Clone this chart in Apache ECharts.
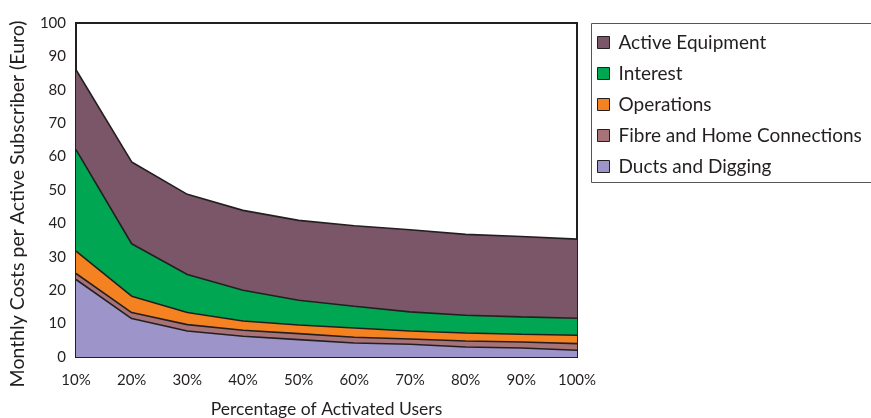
<!DOCTYPE html>
<html>
<head>
<meta charset="utf-8">
<script src="https://cdn.jsdelivr.net/npm/echarts@6/dist/echarts.min.js"></script>
<style>
  html, body { margin: 0; padding: 0; background: #fff; }
  #chart { width: 871px; height: 418px; }
</style>
</head>
<body>
<div id="chart"></div>
<script>
// Share of activated users along the x axis
const categories = ['10%', '20%', '30%', '40%', '50%', '60%', '70%', '80%', '90%', '100%'];

// Monthly cost components per active subscriber (Euro), stacked bottom to top
const ductsAndDigging = [23.2, 11.5, 7.8, 6.2, 5.2, 4.2, 3.8, 3.0, 2.7, 2.0];
const fibreAndHome    = [1.8, 1.8, 1.9, 1.8, 1.8, 1.7, 1.6, 1.8, 1.8, 2.0];
const operations      = [6.7, 4.9, 3.6, 2.8, 2.6, 2.8, 2.4, 2.4, 2.3, 2.5];
const interest        = [30.4, 15.7, 11.4, 9.2, 7.4, 6.5, 5.7, 5.3, 5.2, 5.1];
const activeEquipment = [23.9, 24.5, 24.0, 23.9, 23.9, 24.1, 24.6, 24.2, 24.1, 23.7];

const yTicks = { min: 0, max: 100, interval: 10 };

const FONT = 'Lato, "Open Sans", sans-serif';
const EDGE = '#231f20';

function band(name, data, color) {
  return {
    name: name,
    type: 'line',
    stack: 'cost',
    data: data,
    symbol: 'none',
    smooth: false,
    lineStyle: { color: EDGE, width: 1.6 },
    itemStyle: { color: color, borderColor: EDGE, borderWidth: 1 },
    areaStyle: { color: color, opacity: 1 }
  };
}

const chart = echarts.init(document.getElementById('chart'), null, { renderer: 'canvas' });
chart.setOption({
  animation: false,
  backgroundColor: '#fff',
  textStyle: { fontFamily: FONT },
  grid: {
    left: 76, right: 294, top: 23, bottom: 61,
    outerBoundsMode: 'none',
    containLabel: false,
    show: true, borderColor: EDGE, borderWidth: 2, backgroundColor: 'transparent'
  },
  graphic: [{
    type: 'rect',
    shape: { x: 591.5, y: 23.5, width: 300, height: 159 },
    style: { fill: 'none', stroke: '#555', lineWidth: 1 },
    z: 0
  }],
  legend: {
    orient: 'vertical',
    left: 597,
    top: 33,
    padding: 0,
    itemWidth: 12,
    itemHeight: 12,
    itemGap: 12,
    icon: 'rect',
    data: ['Active Equipment', 'Interest', 'Operations', 'Fibre and Home Connections', 'Ducts and Digging'],
    textStyle: { fontFamily: FONT, fontSize: 19, lineHeight: 19, color: '#231f20', padding: [0, 0, 0, 4] },
    itemStyle: { borderColor: EDGE, borderWidth: 1 }
  },
  xAxis: {
    type: 'category',
    data: categories,
    boundaryGap: false,
    name: 'Percentage of Activated Users',
    nameLocation: 'middle',
    nameGap: 43,
    nameTextStyle: { fontFamily: FONT, fontSize: 17.5, color: '#231f20' },
    axisLine: { show: true, lineStyle: { color: EDGE, width: 2 } },
    axisTick: { show: true, inside: true, length: 6, lineStyle: { color: EDGE, width: 1.5 } },
    axisLabel: { fontFamily: FONT, fontSize: 15, color: '#231f20', margin: 16 },
    splitLine: { show: false }
  },
  yAxis: {
    type: 'value',
    min: yTicks.min,
    max: yTicks.max,
    interval: yTicks.interval,
    name: 'Monthly Costs per Active Subscriber (Euro)',
    nameLocation: 'middle',
    nameGap: 48,
    nameTextStyle: { fontFamily: FONT, fontSize: 19.5, color: '#231f20', padding: [0, 28, 0, 0] },
    axisLine: { show: true, lineStyle: { color: EDGE, width: 2 } },
    axisTick: { show: false },
    axisLabel: { fontFamily: FONT, fontSize: 15, color: '#231f20', margin: 10 },
    splitLine: { show: false }
  },
  series: [
    band('Ducts and Digging', ductsAndDigging, '#9d95c9'),
    band('Fibre and Home Connections', fibreAndHome, '#a77377'),
    band('Operations', operations, '#f58220'),
    band('Interest', interest, '#00a651'),
    band('Active Equipment', activeEquipment, '#7b5668')
  ]
});
</script>
</body>
</html>
